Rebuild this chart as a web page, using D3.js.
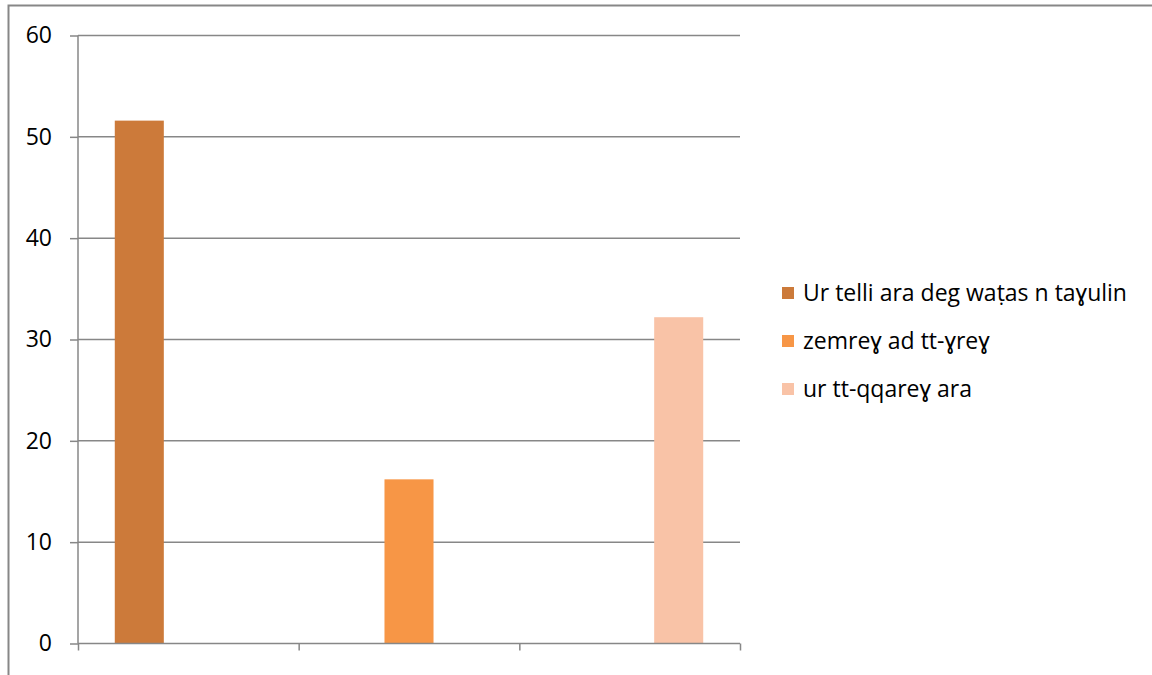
<!DOCTYPE html>
<html><head><meta charset="utf-8">
<script src="https://cdn.jsdelivr.net/npm/d3@7"></script>
<style>body{margin:0;background:#fff}svg{display:block}</style>
</head><body>
<script>
const categories = ["c1", "c2", "c3"];
const seriesNames = ["Ur telli ara deg waṭas n taɣulin", "zemreɣ ad tt-ɣreɣ", "ur tt-qqareɣ ara"];
const seriesA = [51.6, null, null];
const seriesB = [null, 16.2, null];
const seriesC = [null, null, 32.2];
const seriesColors = ["#CC7A3A", "#F79646", "#F9C3A7"];
const yTicks = [0, 10, 20, 30, 40, 50, 60];

const allSeries = [seriesA, seriesB, seriesC];
const W = 1152, H = 675;
const svg = d3.select("body").append("svg").attr("width", W).attr("height", H);
const font = "'Open Sans', sans-serif";

svg.append("rect").attr("x", 8.5).attr("y", 5.5).attr("width", 1160).attr("height", 700)
  .attr("fill", "none").attr("stroke", "#878787").attr("stroke-width", 2);

const pLeft = 78, pRight = 740, pTop = 35.5, pBottom = 643.5;
const y = d3.scaleLinear().domain([0, 60]).range([pBottom, pTop]);
const x0 = d3.scaleBand().domain(categories).range([pLeft, pRight]).paddingInner(0).paddingOuter(0);
const x1 = d3.scaleBand().domain(d3.range(3)).range([0, x0.bandwidth()]).paddingInner(0).paddingOuter(0.75);

const grid = svg.append("g");
grid.selectAll("line").data(yTicks.filter(d => d > 0)).join("line")
  .attr("x1", pLeft).attr("x2", pRight).attr("y1", d => y(d)).attr("y2", d => y(d))
  .attr("stroke", "#878787").attr("stroke-width", 1.5);

const bars = svg.append("g");
allSeries.forEach((s, si) => {
  bars.selectAll(null).data(s.map((v, i) => ({v, i})).filter(d => d.v != null)).join("rect")
    .attr("x", d => x0(categories[d.i]) + x1(si))
    .attr("width", x1.bandwidth())
    .attr("y", d => y(d.v))
    .attr("height", d => y(0) - y(d.v))
    .attr("fill", seriesColors[si]);
});

const yAxis = svg.append("g").attr("transform", `translate(${pLeft},0)`)
  .call(d3.axisLeft(y).tickValues(yTicks).tickSize(8).tickPadding(18).tickFormat(d3.format("d")));
yAxis.select(".domain").attr("stroke", "#878787").attr("stroke-width", 1.5).attr("d", `M0,${pTop}V${pBottom}`);
yAxis.selectAll(".tick line").attr("stroke", "#878787").attr("stroke-width", 1.5);
yAxis.selectAll(".tick text").attr("font-family", font).attr("font-size", 23).attr("fill", "#000");

const xAxis = svg.append("g").attr("transform", `translate(0,${pBottom})`)
  .call(d3.axisBottom(d3.scaleLinear().domain([0, 3]).range([pLeft, pRight])).tickValues([0,1,2,3]).tickSize(7).tickFormat(""));
xAxis.select(".domain").attr("stroke", "#878787").attr("stroke-width", 1.5).attr("d", `M${pLeft},0H${pRight}`);
xAxis.selectAll(".tick line").attr("stroke", "#878787").attr("stroke-width", 1.5);

const legend = svg.append("g");
seriesNames.forEach((n, i) => {
  const g = legend.append("g").attr("transform", `translate(782,${293 + i * 48})`);
  g.append("rect").attr("x", 0).attr("y", -6).attr("width", 12).attr("height", 12).attr("fill", seriesColors[i]);
  g.append("text").attr("x", 21).attr("y", 0).attr("dy", "0.36em")
    .attr("font-family", font).attr("font-size", 23).attr("fill", "#000").text(n);
});
</script>
</body></html>
